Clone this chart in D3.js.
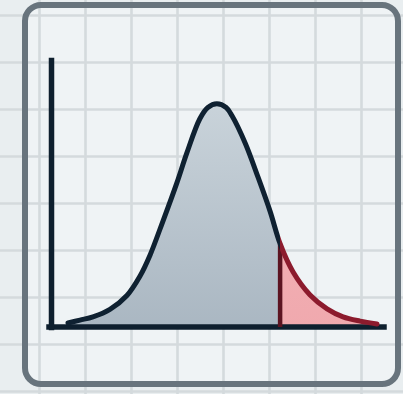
<!DOCTYPE html>
<html>
<head>
<meta charset="utf-8">
<script src="https://cdn.jsdelivr.net/npm/d3@7"></script>
<style>
  html, body { margin: 0; padding: 0; background: #e9eef0; }
  svg { display: block; }
</style>
</head>
<body>
<svg id="chart" width="403" height="394"></svg>
<script>
// ---- data (in chart units 0..100) ----
const curveX = [5.1, 8.7, 12.6, 17.7, 22.8, 26.7, 29.7, 33.6, 37.8, 40.8, 44.7, 47.1, 49.8, 52.6, 54.4, 58.3, 62.2, 65.8, 68.8, 72.7, 77.8, 82.9, 87.7, 92.8, 97.9];
const curveY = [1.5, 2.6, 3.8, 6.6, 11.8, 19.0, 26.8, 39.6, 54.0, 65.2, 78.0, 82.2, 83.6, 82.2, 79.0, 68.9, 56.0, 43.3, 31.2, 20.6, 12.0, 6.8, 3.8, 2.2, 1.1];
const tailStart = 68.8;          // x where the shaded red tail begins
const xDomain = [0, 100];
const yDomain = [0, 100];

const W = 403, H = 394;
const svg = d3.select("#chart");
const defs = svg.append("defs");

// background grid (decoration)
const gridX = d3.range(39.5, W, 46);
const gridY = d3.range(15.5, H, 47);

svg.append("rect").attr("width", W).attr("height", H).attr("fill", "#e9eef0");

// card
svg.append("rect")
  .attr("x", 25).attr("y", 5).attr("width", 373).attr("height", 379)
  .attr("rx", 16).attr("fill", "#eff3f5");

const gridG = svg.append("g").attr("stroke", "#d4dadd").attr("stroke-width", 2.6);
gridG.selectAll("line.v").data(gridX).join("line")
  .attr("x1", d => d).attr("x2", d => d).attr("y1", 0).attr("y2", H);
gridG.selectAll("line.h").data(gridY).join("line")
  .attr("y1", d => d).attr("y2", d => d).attr("x1", 0).attr("x2", W);

svg.append("rect")
  .attr("x", 25).attr("y", 5).attr("width", 373).attr("height", 379)
  .attr("rx", 16).attr("fill", "none").attr("stroke", "#68747d").attr("stroke-width", 6);

// scales
const x = d3.scaleLinear().domain(xDomain).range([51, 384]);
const y = d3.scaleLinear().domain(yDomain).range([327, 60]);

const pts = curveX.map((v, i) => [v, curveY[i]]);
const tailY = curveY[curveX.indexOf(tailStart)];

// gradients
const gGray = defs.append("linearGradient").attr("id", "gGray").attr("x1", 0).attr("y1", 0).attr("x2", 0).attr("y2", 1);
gGray.append("stop").attr("offset", "0%").attr("stop-color", "#c9d3da");
gGray.append("stop").attr("offset", "100%").attr("stop-color", "#aab7c2");
const gRed = defs.append("linearGradient").attr("id", "gRed").attr("x1", 0).attr("y1", 0).attr("x2", 0).attr("y2", 1);
gRed.append("stop").attr("offset", "0%").attr("stop-color", "#f4b7bb");
gRed.append("stop").attr("offset", "100%").attr("stop-color", "#f0a9ae");

defs.append("clipPath").attr("id", "clipL").append("rect")
  .attr("x", 0).attr("y", 0).attr("width", x(tailStart)).attr("height", H);
defs.append("clipPath").attr("id", "clipR").append("rect")
  .attr("x", x(tailStart)).attr("y", 0).attr("width", W - x(tailStart)).attr("height", H);

const curve = d3.curveCatmullRom.alpha(0.5);
const area = d3.area().x(d => x(d[0])).y0(y(0)).y1(d => y(d[1])).curve(curve);
const line = d3.line().x(d => x(d[0])).y(d => y(d[1])).curve(curve);

svg.append("path").attr("d", area(pts)).attr("fill", "url(#gGray)").attr("clip-path", "url(#clipL)");
svg.append("path").attr("d", area(pts)).attr("fill", "url(#gRed)").attr("clip-path", "url(#clipR)");

// axes (no ticks, just the domain lines)
const xAxis = svg.append("g").attr("transform", `translate(0,${y(0)})`)
  .call(d3.axisBottom(x).ticks(0).tickSizeOuter(0));
const yAxis = svg.append("g").attr("transform", `translate(${x(0)},0)`)
  .call(d3.axisLeft(y).ticks(0).tickSizeOuter(0));
[xAxis, yAxis].forEach(a => a.select(".domain")
  .attr("stroke", "#0e1f2e").attr("stroke-width", 5.5).attr("stroke-linecap", "square"));
xAxis.select(".domain").attr("d", `M${x(0) - 2},0H${x(100)}`);

// red divider at the start of the tail
svg.append("line")
  .attr("x1", x(tailStart)).attr("x2", x(tailStart))
  .attr("y1", y(0)).attr("y2", y(tailY))
  .attr("stroke", "#5c1421").attr("stroke-width", 4.5);

// curve strokes
svg.append("path").attr("d", line(pts)).attr("fill", "none")
  .attr("stroke", "#0f2131").attr("stroke-width", 5).attr("stroke-linecap", "round")
  .attr("clip-path", "url(#clipL)");
svg.append("path").attr("d", line(pts)).attr("fill", "none")
  .attr("stroke", "#8c1b2d").attr("stroke-width", 5).attr("stroke-linecap", "round")
  .attr("clip-path", "url(#clipR)");
</script>
</body>
</html>
